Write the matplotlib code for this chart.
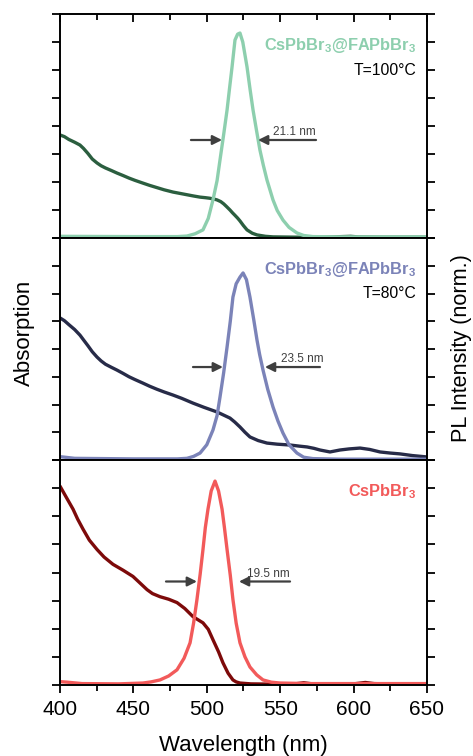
import numpy as np
import matplotlib
matplotlib.use("Agg")
import matplotlib.pyplot as plt
from matplotlib.ticker import MultipleLocator

plt.rcParams['font.family'] = ['Liberation Sans', 'DejaVu Sans']
plt.rcParams['mathtext.fontset'] = 'custom'
plt.rcParams['mathtext.rm'] = 'Liberation Sans'
plt.rcParams['mathtext.bf'] = 'Liberation Sans:bold'

# ---- data (wavelength nm, arbitrary units) ----
# top panel: CsPbBr3@FAPbBr3, T=100 C
abs100_x = [400, 403, 406, 410, 413.6, 416, 419, 422, 425.2, 428, 431, 435, 438.8, 443, 447, 451, 456.5, 461,
            466, 471, 477, 482, 486, 491, 495.4, 499, 502, 505, 507, 509.5, 511.5, 513.5,
            515.8, 517.5, 519, 521, 522.6, 525, 527.4, 531, 534.2, 540, 545.1, 560, 580, 598, 603, 620, 650]
abs100_y = [3.68, 3.62, 3.52, 3.42, 3.32, 3.2, 3.02, 2.82, 2.68, 2.58, 2.5, 2.41, 2.32, 2.23, 2.14, 2.06, 1.96, 1.88,
            1.8, 1.72, 1.64, 1.59, 1.55, 1.5, 1.46, 1.44, 1.42, 1.39, 1.36, 1.3, 1.22, 1.12,
            1.0, 0.9, 0.82, 0.71, 0.61, 0.44, 0.29, 0.17, 0.11, 0.06, 0.04, 0.03, 0.03, 0.06, 0.04, 0.03, 0.03]
pl100_x = [400, 450, 480, 486.5, 492, 497.4, 501, 504.2, 507, 509, 511.5, 513.8, 515.5, 517.2, 519.2, 521, 522.6,
           524.5, 527.4, 529.5, 531.5, 534, 536.2, 538.5, 541, 545.1, 548, 551.9, 556, 561.4, 566, 572.3, 590, 620, 650]
pl100_y = [0.06, 0.05, 0.05, 0.07, 0.15, 0.29, 0.7, 1.36, 2.05, 2.79, 3.7, 4.57, 5.35, 6.11, 7.07, 7.28, 7.32,
           7.0, 6.11, 5.3, 4.57, 3.8, 3.14, 2.6, 2.07, 1.36, 0.98, 0.64, 0.38, 0.18, 0.09, 0.05, 0.04, 0.04, 0.04]

# middle panel: CsPbBr3@FAPbBr3, T=80 C
abs80_x = [400, 403, 406, 410, 413.6, 416, 419, 422, 425.2, 428, 431, 435, 438.8, 443, 447, 451, 456.5, 461,
           466, 471, 477, 483, 490.6, 498, 507, 511,
           515.8, 519, 522.6, 526, 529.4, 535, 541, 548, 556.7, 563, 568.3, 573, 577.1, 583.9, 590.7,
           597, 604.4, 611, 618, 625, 631.6, 640, 650]
abs80_y = [5.12, 5.02, 4.88, 4.7, 4.5, 4.33, 4.12, 3.9, 3.71, 3.57, 3.45, 3.34, 3.24, 3.12, 3.0, 2.9, 2.77, 2.66,
           2.55, 2.45, 2.34, 2.22, 2.05, 1.9, 1.73, 1.63,
           1.51, 1.37, 1.19, 1.0, 0.83, 0.7, 0.61, 0.57, 0.54, 0.5, 0.47, 0.42, 0.36, 0.29, 0.36,
           0.4, 0.43, 0.38, 0.29, 0.25, 0.22, 0.16, 0.11]
pl80_x = [400, 410, 450, 480, 486.5, 491, 495.4, 500, 504.2, 507, 509, 511.5, 513.8, 516, 517.8, 520, 522.6,
          524.7, 527, 529.4, 532, 534.2, 536, 538.3, 541.5, 545.1, 548.5, 551.9, 556, 561.4, 566, 572.3, 590, 620, 650]
pl80_y = [0.12, 0.06, 0.04, 0.04, 0.06, 0.13, 0.25, 0.55, 1.08, 1.6, 2.27, 3.15, 4.07, 5.0, 5.87, 6.35, 6.59,
          6.74, 6.5, 5.87, 5.05, 4.32, 3.8, 3.24, 2.55, 1.91, 1.4, 0.97, 0.55, 0.25, 0.1, 0.05, 0.03, 0.03, 0.03]

# bottom panel: CsPbBr3
abs_cs_x = [400, 404, 408.9, 412, 415.7, 420, 425.2, 430, 436.1, 443, 449.7, 454, 459.3, 463, 468.1, 474,
            479.7, 485, 490.6, 494, 497.4, 501, 504.2, 508, 511, 514.5, 517.8, 520, 522.6, 530, 545, 560,
            566, 572, 600, 608, 614, 630, 650]
abs_cs_y = [7.07, 6.7, 6.25, 5.9, 5.54, 5.15, 4.82, 4.55, 4.29, 4.08, 3.86, 3.65, 3.39, 3.25, 3.14, 3.05,
            2.93, 2.72, 2.43, 2.32, 2.21, 1.98, 1.61, 1.18, 0.79, 0.42, 0.18, 0.11, 0.07, 0.04, 0.03, 0.04,
            0.08, 0.04, 0.04, 0.09, 0.05, 0.03, 0.03]
pl_cs_x = [400, 405, 415, 440, 456.5, 462, 468.1, 474, 479.7, 484.5, 488.6, 491, 493.3, 495.5, 497.4, 499,
           500.8, 503, 505.6, 508, 510.4, 512, 513.8, 516, 517.8, 520, 522.6, 526, 529.4, 534, 538.3, 544,
           549.9, 570, 610, 650]
pl_cs_y = [0.12, 0.1, 0.05, 0.04, 0.07, 0.11, 0.18, 0.32, 0.54, 0.95, 1.5, 2.2, 3.04, 3.95, 4.82, 5.6,
           6.25, 6.9, 7.25, 6.9, 6.25, 5.6, 4.82, 3.9, 3.04, 2.2, 1.5, 1.0, 0.64, 0.36, 0.18, 0.1,
           0.07, 0.05, 0.05, 0.05]

# FWHM annotations: (label, y, left tail, left tip, right tip, right tail, text x)
fwhm_100 = ("21.1 nm", 3.5, 489.2, 510.4, 534.9, 574.4, 545.3)
fwhm_80 = ("23.5 nm", 3.35, 490.6, 511.0, 539.6, 577.1, 550.5)
fwhm_cs = ("19.5 nm", 3.68, 472.2, 493.3, 521.9, 556.7, 527.4)

panels = [
    (abs100_x, abs100_y, pl100_x, pl100_y, '#2b5e3f', '#8dcfae',
     r"CsPbBr$_\mathbf{3}$@FAPbBr$_\mathbf{3}$", "T=100°C", fwhm_100),
    (abs80_x, abs80_y, pl80_x, pl80_y, '#272b48', '#7b83b8',
     r"CsPbBr$_\mathbf{3}$@FAPbBr$_\mathbf{3}$", "T=80°C", fwhm_80),
    (abs_cs_x, abs_cs_y, pl_cs_x, pl_cs_y, '#7d0a0a', '#f25a5a',
     r"CsPbBr$_\mathbf{3}$", None, fwhm_cs),
]

W, H = 473, 756
fig = plt.figure(figsize=(W / 100, H / 100), dpi=100)
edges = [14, 238, 460, 685]
x0, x1 = 60, 427

for i, (ax_x, ax_y, px, py, c_abs, c_pl, name, temp, fw) in enumerate(panels):
    top, bot = edges[i], edges[i + 1]
    ax = fig.add_axes([x0 / W, 1 - bot / H, (x1 - x0) / W, (bot - top) / H])
    ax.plot(ax_x, ax_y, color=c_abs, lw=2.4, solid_capstyle='round', solid_joinstyle='round')
    ax.plot(px, py, color=c_pl, lw=2.4, solid_capstyle='round', solid_joinstyle='round')
    ax.set_xlim(400, 650)
    ax.set_ylim(0, 8)
    for s in ax.spines.values():
        s.set_linewidth(1.4)

    ax.yaxis.set_major_locator(MultipleLocator(1))
    ax.tick_params(axis='y', which='both', left=True, right=True, direction='out',
                   length=6, width=1.3, labelleft=False, labelright=False)
    ax.xaxis.set_major_locator(MultipleLocator(50))
    ax.xaxis.set_minor_locator(MultipleLocator(25))
    if i == 0:
        ax.tick_params(axis='x', which='both', top=True, bottom=False, direction='in',
                       labelbottom=False, width=1.3)
        ax.tick_params(axis='x', which='major', length=6)
        ax.tick_params(axis='x', which='minor', length=4)
    elif i == 2:
        ax.tick_params(axis='x', which='both', top=False, bottom=True, direction='out',
                       labelsize=15, width=1.3, pad=5)
        ax.tick_params(axis='x', which='major', length=6)
        ax.tick_params(axis='x', which='minor', length=4)
        ax.set_xlabel("Wavelength (nm)", fontsize=16, labelpad=11)
    else:
        ax.tick_params(axis='x', which='both', top=False, bottom=False, labelbottom=False)

    ax.text(0.97, 0.86, name, transform=ax.transAxes, ha='right', va='center',
            color=c_pl, fontsize=11.8, fontweight='bold')
    if temp:
        ax.text(0.97, 0.75, temp, transform=ax.transAxes, ha='right', va='center',
                color='black', fontsize=11.3)

    lab, yy, lt, ltip, rtip, rt, tx = fw
    aprops = dict(arrowstyle='-|>', color='#3f3f3f', lw=1.6, mutation_scale=14, shrinkA=0, shrinkB=0)
    ax.annotate('', xy=(ltip, yy), xytext=(lt, yy), arrowprops=aprops)
    ax.annotate('', xy=(rtip, yy), xytext=(rt, yy), arrowprops=aprops)
    ax.text(tx, yy + 0.06, lab, fontsize=8.5, color='#3f3f3f', ha='left', va='bottom')

fig.text(24 / W, 1 - 333 / H, "Absorption", rotation=90, ha='center', va='center', fontsize=16)
fig.text(461 / W, 1 - 348 / H, "PL Intensity (norm.)", rotation=90, ha='center', va='center', fontsize=15.6)

fig.savefig("out.png", dpi=100)
